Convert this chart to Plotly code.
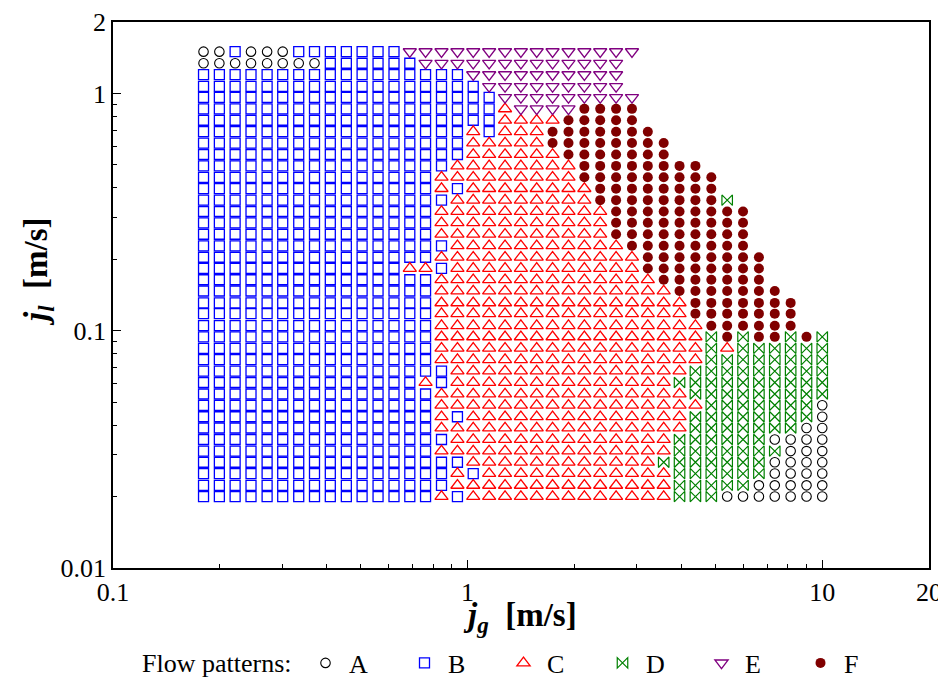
import plotly.graph_objects as go

# ---- data ----
# superficial gas velocity grid (columns, left -> right)
jg_cols = [0.180, 0.1995, 0.221, 0.245, 0.272, 0.301, 0.334, 0.370, 0.410, 0.455,
           0.504, 0.559, 0.620, 0.687, 0.761, 0.844, 0.936, 1.037, 1.150, 1.275,
           1.413, 1.566, 1.736, 1.925, 2.134, 2.365, 2.622, 2.907, 3.222, 3.572,
           3.959, 4.389, 4.866, 5.394, 5.979, 6.628, 7.347, 8.145, 9.029, 10.0]
# superficial liquid velocity grid (rows, top -> bottom)
jl_rows = [1.50, 1.34, 1.20, 1.07, 0.962, 0.861, 0.771, 0.690, 0.618, 0.553,
           0.495, 0.443, 0.397, 0.355, 0.318, 0.285, 0.255, 0.228, 0.204, 0.183,
           0.164, 0.147, 0.131, 0.118, 0.105, 0.0942, 0.0843, 0.0755, 0.0676, 0.0605,
           0.0541, 0.0485, 0.0434, 0.0389, 0.0348, 0.0311, 0.0279, 0.0250, 0.0223, 0.020]
# observed flow pattern along each row (run-length: pattern + count, '.' = no point)
pattern_map = [
    "A2 B1 A3 B7 E15 .12",
    "A8 B6 E13 .13",
    "B17 E10 .13",
    "B18 E9 .13",
    "B19 E9 .12",
    "B19 C1 E4 F4 .12",
    "B19 C4 F5 .12",
    "B17 C1 B1 C3 F7 .11",
    "B17 C5 F8 .10",
    "B17 C6 F7 .10",
    "B16 C8 F8 .8",
    "B15 C9 F9 .7",
    "B15 C1 B1 C8 F8 .7",
    "B16 C9 F8 D1 .6",
    "B15 C11 F9 .5",
    "B15 C11 F9 .5",
    "B15 C11 F9 .5",
    "B16 C11 F8 .5",
    "B15 C13 F8 .4",
    "B13 C2 B1 C12 F8 .4",
    "B15 C14 F7 .4",
    "B15 C15 F7 .3",
    "B15 C16 F7 .2",
    "B15 C16 F7 .2",
    "B15 C17 F6 .2",
    "B15 C17 D1 F1 D1 F2 D1 F1 D1",
    "B15 C17 D1 C1 D6",
    "B15 C17 D8",
    "B16 C15 D9",
    "B14 C1 B1 C14 D10",
    "B15 C16 D9",
    "B15 C17 D7 A1",
    "B15 C1 B1 C14 D8 A1",
    "B15 C16 D7 A2",
    "B16 C14 D6 A4",
    "B15 C15 D7 A3",
    "B17 C12 D7 A4",
    "B16 C1 B1 C12 D6 A4",
    "B16 C14 D5 A5",
    "B15 C1 B1 C13 D3 A7",
]
patterns = ["A", "B", "C", "D", "E", "F"]
x_tick_vals = [0.1, 1, 10, 20]
x_tick_text = ["0.1", "1", "10", "20"]
y_tick_vals = [0.01, 0.1, 1, 2]
y_tick_text = ["0.01", "0.1", "1", "2"]

# ---- styles ----
styles = {
    "A": dict(symbol="circle-open", size=9.5, color="#000000", line=dict(width=1.1, color="#000000")),
    "B": dict(symbol="square-open", size=10, color="#0000FF", line=dict(width=1.3, color="#0000FF")),
    "C": dict(symbol="triangle-up-open", size=11.5, color="#FF0000", line=dict(width=1.3, color="#FF0000")),
    "D": dict(symbol="bowtie-open", size=10.5, color="#008000", line=dict(width=1.2, color="#008000")),
    "E": dict(symbol="triangle-down-open", size=11.5, color="#800080", line=dict(width=1.3, color="#800080")),
    "F": dict(symbol="circle", size=10, color="#800000", line=dict(width=0)),
}

pts = {p: ([], []) for p in patterns}
for r, row in enumerate(pattern_map):
    c = 0
    for tok in row.split():
        code, n = tok[0], int(tok[1:])
        for k in range(n):
            if code != ".":
                pts[code][0].append(jg_cols[c + k])
                pts[code][1].append(jl_rows[r])
        c += n

fig = go.Figure()
for p in patterns:
    fig.add_trace(go.Scatter(x=pts[p][0], y=pts[p][1], mode="markers", name=p,
                             marker=styles[p]))

serif = "Liberation Serif"
# page body has an 8px margin: figure is drawn from (8, 8)
W, H = 938, 670
L, R, T, B = 105, 17, 14, 110
X0, Y0, PW, PH = 113, 568, 816, 546   # plot area in window pixels


def px_x(px):
    return (px - X0) / PW


def px_y(py):
    return (Y0 - py) / PH


minor_vals = [m * d for d in (0.01, 0.1, 1, 10) for m in range(2, 10)]

axis_common = dict(type="log", showgrid=False, zeroline=False, showline=True,
                   linecolor="black", linewidth=1.5, mirror=True,
                   ticks="inside", ticklen=8, tickwidth=1.2, tickcolor="black",
                   tickfont=dict(family=serif, size=26, color="black"))
fig.update_xaxes(**axis_common, range=[-1, 1.30103], tickmode="array",
                 tickvals=x_tick_vals, ticktext=x_tick_text,
                 minor=dict(ticks="inside", ticklen=4, tickcolor="black",
                            tickmode="array", tickvals=minor_vals))
fig.update_yaxes(**axis_common, range=[-2, 0.30103], tickmode="array",
                 tickvals=y_tick_vals, ticktext=y_tick_text,
                 minor=dict(ticks="inside", ticklen=4, tickcolor="black",
                            tickmode="array", tickvals=minor_vals))

fig.update_layout(
    width=W, height=H, autosize=False,
    margin=dict(l=L, r=R, t=T, b=B, autoexpand=False),
    plot_bgcolor="white", paper_bgcolor="white",
    font=dict(family=serif, color="black"),
    legend=dict(orientation="h", x=px_x(302), y=px_y(663), xanchor="left", yanchor="middle",
                font=dict(family=serif, size=26, color="black"),
                itemwidth=37, entrywidth=47, entrywidthmode="pixels",
                bgcolor="rgba(0,0,0,0)"),
    annotations=[
        dict(text="<b><i>j</i><sub><i>g</i></sub>  [m/s]</b>", x=px_x(520), y=px_y(617),
             xref="paper", yref="paper", showarrow=False, xanchor="center", yanchor="middle",
             font=dict(family=serif, size=33, color="black")),
        dict(text="<b><i>j</i><sub><i>l</i></sub>  [m/s]</b>", x=px_x(38), y=px_y(272),
             xref="paper", yref="paper", showarrow=False, xanchor="center", yanchor="middle",
             textangle=-90, font=dict(family=serif, size=33, color="black")),
        dict(text="Flow patterns:", x=px_x(140), y=px_y(663), xref="paper", yref="paper",
             showarrow=False, xanchor="left", yanchor="middle",
             font=dict(family=serif, size=26, color="black")),
    ],
)

fig.write_html("out.html")
